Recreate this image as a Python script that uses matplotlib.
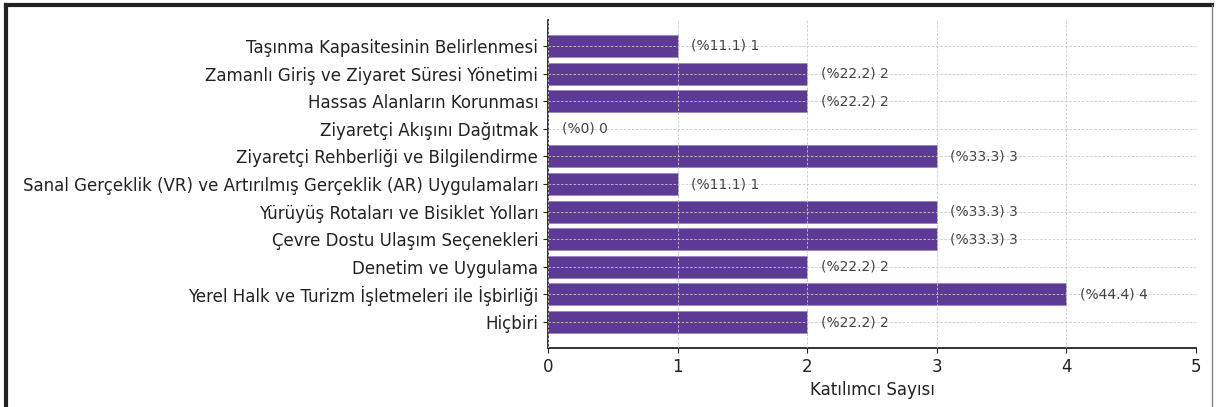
import matplotlib.pyplot as plt
from matplotlib.lines import Line2D

categories = [
    'Taşınma Kapasitesinin Belirlenmesi',
    'Zamanlı Giriş ve Ziyaret Süresi Yönetimi',
    'Hassas Alanların Korunması',
    'Ziyaretçi Akışını Dağıtmak',
    'Ziyaretçi Rehberliği ve Bilgilendirme',
    'Sanal Gerçeklik (VR) ve Artırılmış Gerçeklik (AR) Uygulamaları',
    'Yürüyüş Rotaları ve Bisiklet Yolları',
    'Çevre Dostu Ulaşım Seçenekleri',
    'Denetim ve Uygulama',
    'Yerel Halk ve Turizm İşletmeleri ile İşbirliği',
    'Hiçbiri',
]
counts = [1, 2, 2, 0, 3, 1, 3, 3, 2, 4, 2]
percents = ['11.1', '22.2', '22.2', '0', '33.3', '11.1', '33.3', '33.3', '22.2', '44.4', '22.2']

plt.rc('font', size=12, family='DejaVu Sans')
fig = plt.figure(figsize=(12.16, 4.07), dpi=100)
ax = fig.add_axes([548 / 1216, 59 / 407, 648 / 1216, 328 / 407])

y = list(range(len(categories)))[::-1]
ax.barh(y, counts, height=0.8, color='#5e3a97', edgecolor='#9a84c4', linewidth=0.6, zorder=2)
for yi, c, p in zip(y, counts, percents):
    ax.text(c + 0.105, yi, f'(%{p}) {c}', va='center', ha='left', fontsize=10, color='#444444', zorder=4)

ax.set_yticks(y)
ax.set_yticklabels(categories, color='#222222')
ax.set_xlim(0, 5)
ax.set_xlabel('Katılımcı Sayısı', color='#222222')
ax.grid(True, linestyle=(0, (3, 2)), color='#c8c8c8', linewidth=0.6, zorder=3)
ax.set_axisbelow(False)
for s in ['top', 'right']:
    ax.spines[s].set_visible(False)
for s in ['left', 'bottom']:
    ax.spines[s].set_linewidth(1.3)
    ax.spines[s].set_color('#222222')
ax.tick_params(colors='#222222')

# frame around the figure
fig.add_artist(Line2D([6 / 1216, 6 / 1216], [0, 1 - 5 / 407], color='#222222', lw=3))
fig.add_artist(Line2D([6 / 1216, 1212 / 1216], [1 - 5 / 407, 1 - 5 / 407], color='#222222', lw=3))
fig.add_artist(Line2D([1212 / 1216, 1212 / 1216], [0, 1 - 5 / 407], color='#888888', lw=1))

fig.savefig('out.png', dpi=100)
